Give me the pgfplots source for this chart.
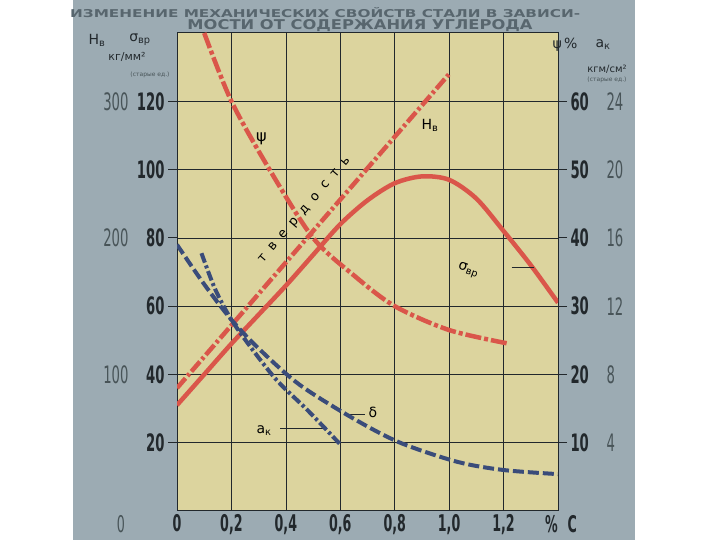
\documentclass[border=0pt]{standalone}
\usepackage{fontspec}
\setmainfont{DejaVu Sans}
\newfontfamily\tickfont[FakeStretch=0.55]{DejaVu Sans}
\newfontfamily\titlefont{DejaVu Sans}
\usepackage{graphicx}
\usepackage{pgfplots}
\pgfplotsset{compat=1.18}

\definecolor{bgc}{RGB}{156,171,179}
\definecolor{paper}{RGB}{220,212,158}
\definecolor{redc}{RGB}{218,86,74}
\definecolor{bluec}{RGB}{58,76,122}
\definecolor{ink}{RGB}{34,40,44}
\definecolor{inkl}{RGB}{72,84,88}
\definecolor{titlec}{RGB}{88,102,110}

\pgfplotsset{
  chart/.style={scale only axis, width=381pt, height=478pt,
    at={(177pt,29pt)}, anchor=south west, xmin=0, xmax=1.4},
  boldnum/.style={font=\tickfont\bfseries\fontsize{24}{24}\selectfont, text=ink},
  thinnum/.style={font=\tickfont\fontsize{24}{24}\selectfont, text=inkl},
}

\begin{document}
\begin{tikzpicture}[x=1pt,y=1pt]
\fill[white] (0,0) rectangle (720,540);
\fill[bgc] (73,0) rectangle (635,540);

% main scale: sigma_vr, kg/mm^2
\begin{axis}[chart, ymin=0, ymax=140,
  axis background/.style={fill=paper},
  axis line style={ink, line width=1pt},
  xtick={0,0.2,0.4,0.6,0.8,1.0,1.2},
  xticklabels={0,{0,2},{0,4},{0,6},{0,8},{1,0},{1,2}},
  ytick={20,40,60,80,100,120}, yticklabels={20,40,60,80,100,120},
  ytick pos=left, xtick style={draw=none},
  grid=major, grid style={ink, line width=0.7pt},
  tick align=outside, major tick length=9pt,
  ytick style={ink, line width=0.8pt},
  ticklabel style={boldnum},
  xticklabel style={font=\tickfont\bfseries\fontsize{23}{23}\selectfont, yshift=9pt}]
\addplot[redc, line width=4.5pt, smooth, tension=0.5] coordinates
  {(0,31)(0.1,40)(0.2,49)(0.3,57.5)(0.4,66)(0.5,75)(0.6,84)(0.7,91)(0.8,96)
   (0.9,98)(1.0,97)(1.1,91.5)(1.2,82)(1.3,72)(1.4,61)};
\node[font=\fontsize{16}{16}\selectfont] at (axis cs:0.31,109) {ψ};
\node[font=\fontsize{14}{14}\selectfont] at (axis cs:0.93,113) {Н\textsubscript{в}};
\node[font=\fontsize{14}{14}\selectfont, rotate=-20] at (axis cs:1.07,70.5) {σ\textsubscript{вр}};
\draw[ink, line width=0.6pt] (axis cs:1.23,71.3) -- (axis cs:1.31,71.3);
\node[font=\fontsize{14}{14}\selectfont] at (axis cs:0.72,29) {δ};
\draw[ink, line width=0.6pt] (axis cs:0.63,28.2) -- (axis cs:0.69,28.2);
\node[font=\fontsize{14}{14}\selectfont] at (axis cs:0.32,23.5) {a\textsubscript{к}};
\draw[ink, line width=0.6pt] (axis cs:0.38,24.2) -- (axis cs:0.54,24.2);
\node[font=\fontsize{13}{13}\selectfont, rotate=49.5] at (axis cs:0.47,88)
  {т\hspace{8pt}в\hspace{8pt}е\hspace{8pt}р\hspace{8pt}д\hspace{8pt}о\hspace{8pt}с\hspace{8pt}т\hspace{8pt}ь};
\end{axis}

% Brinell hardness H_B
\begin{axis}[chart, ymin=0, ymax=350, hide x axis, axis y line*=left,
  axis line style={draw=none}, ytick={100,200,300},
  yticklabels={100,200,300}, major tick length=0pt,
  yticklabel style={thinnum, xshift=-45pt}]
\addplot[redc, line width=4.5pt, dash pattern=on 13pt off 3pt on 3pt off 3pt] coordinates
  {(0,90)(0.5,205)(1.0,320)};
\end{axis}

% psi and delta, %
\begin{axis}[chart, ymin=0, ymax=70, hide x axis, axis y line*=right,
  axis line style={draw=none}, ytick={10,20,30,40,50,60},
  yticklabels={10,20,30,40,50,60}, tick align=outside, major tick length=9pt,
  ytick style={ink, line width=0.8pt}, yticklabel style={boldnum}]
\addplot[redc, line width=4.5pt, smooth, dash pattern=on 16pt off 3pt on 4pt off 3pt] coordinates
  {(0.1,70)(0.2,60)(0.34,50)(0.5,40)(0.65,34.5)(0.8,30)(1.0,26.5)(1.22,24.5)};
\addplot[bluec, line width=4pt, smooth, dash pattern=on 11pt off 4pt] coordinates
  {(0,39)(0.1,33.2)(0.2,28)(0.3,23.8)(0.45,18.5)(0.65,13.5)(0.82,10)(1.03,7.2)(1.2,6)(1.4,5.4)};
\end{axis}

% impact strength a_k, kgm/cm^2
\begin{axis}[chart, ymin=0, ymax=28, hide x axis, axis y line*=right,
  axis line style={draw=none}, ytick={4,8,12,16,20,24},
  yticklabels={4,8,12,16,20,24}, major tick length=0pt,
  yticklabel style={thinnum, xshift=45pt}]
\addplot[bluec, line width=4pt, smooth, dash pattern=on 10pt off 3pt on 3pt off 3pt] coordinates
  {(0.09,15.1)(0.14,13)(0.2,11.2)(0.28,9.4)(0.37,7.6)(0.48,5.9)(0.6,3.9)};
\end{axis}

% titles and scale captions
\node[anchor=west, text=titlec, inner sep=0pt] at (70,527)
  {\resizebox{510pt}{10pt}{\titlefont\bfseries ИЗМЕНЕНИЕ МЕХАНИЧЕСКИХ СВОЙСТВ СТАЛИ В ЗАВИСИ-}};
\node[text=titlec, inner sep=0pt] at (360,514)
  {\resizebox{345pt}{10pt}{\titlefont\bfseries МОСТИ ОТ СОДЕРЖАНИЯ УГЛЕРОДА}};
\node[text=ink, font=\fontsize{14}{14}\selectfont] at (97,500) {Н\textsubscript{в}};
\node[text=ink, font=\fontsize{14}{14}\selectfont] at (140,500) {σ\textsubscript{вр}};
\node[text=ink, font=\fontsize{11}{11}\selectfont] at (127,483) {кг/мм²};
\node[text=inkl, font=\fontsize{6}{6}\selectfont] at (150,465) {(старые ед.)};
\node[text=ink, font=\fontsize{14}{14}\selectfont] at (565,495) {ψ\,\%};
\node[text=ink, font=\fontsize{14}{14}\selectfont] at (603,495) {a\textsubscript{к}};
\node[text=ink, font=\fontsize{10}{10}\selectfont] at (607,471) {кгм/см²};
\node[text=inkl, font=\fontsize{6}{6}\selectfont] at (607,460) {(старые ед.)};
\node[text=ink, font=\tickfont\bfseries\fontsize{23}{23}\selectfont] at (561,16) {\%\hspace{10pt}C};
\node[text=inkl, font=\tickfont\fontsize{23}{23}\selectfont] at (121,16) {0};
\pgfresetboundingbox
\useasboundingbox (0,0) rectangle (720,540);
\end{tikzpicture}
\end{document}
